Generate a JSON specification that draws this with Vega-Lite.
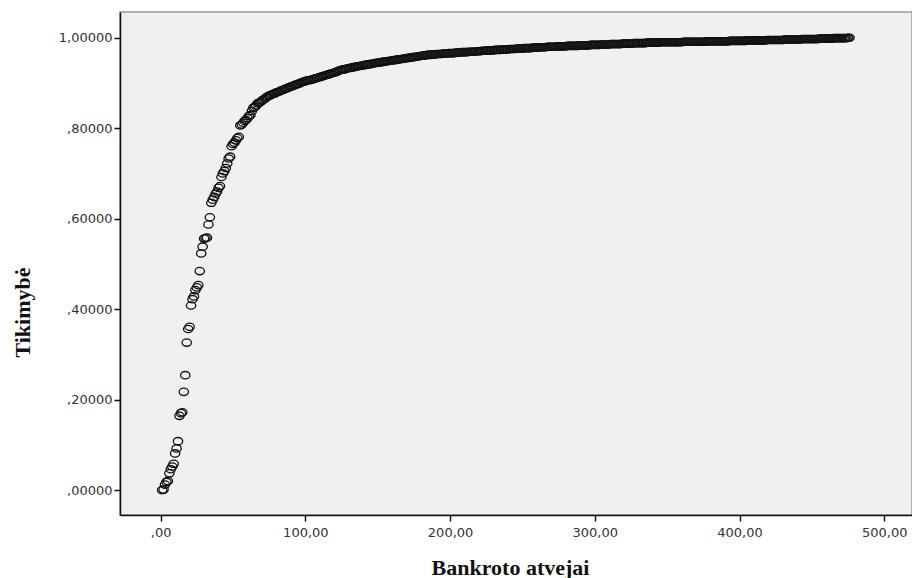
{
  "$schema": "https://vega.github.io/schema/vega-lite/v6.json",
  "width": 792,
  "height": 503,
  "autosize": {"type": "none"},
  "padding": {"left": 120, "top": 12, "right": 0, "bottom": 63},
  "background": "#ffffff",
  "config": {
    "view": {"fill": "#f0f0f0", "stroke": "#999999", "strokeWidth": 1.5},
    "axis": {"grid": false}
  },
  "data": {
    "values": [
      {"x": 1, "y": 0.000}, {"x": 2, "y": 0.001}, {"x": 3, "y": 0.012}, {"x": 4, "y": 0.018},
      {"x": 5, "y": 0.020}, {"x": 6, "y": 0.037}, {"x": 7, "y": 0.046}, {"x": 8, "y": 0.052},
      {"x": 9, "y": 0.058}, {"x": 10, "y": 0.081}, {"x": 11, "y": 0.092}, {"x": 12, "y": 0.108},
      {"x": 13, "y": 0.164}, {"x": 14, "y": 0.170}, {"x": 15, "y": 0.172}, {"x": 16, "y": 0.217},
      {"x": 17, "y": 0.254}, {"x": 18, "y": 0.326}, {"x": 19, "y": 0.356}, {"x": 20, "y": 0.361},
      {"x": 21, "y": 0.408}, {"x": 22, "y": 0.422}, {"x": 23, "y": 0.428}, {"x": 24, "y": 0.442},
      {"x": 25, "y": 0.448}, {"x": 26, "y": 0.453}, {"x": 27, "y": 0.484}, {"x": 28, "y": 0.523},
      {"x": 29, "y": 0.538}, {"x": 30, "y": 0.556}, {"x": 31, "y": 0.557}, {"x": 32, "y": 0.558},
      {"x": 33, "y": 0.587}, {"x": 34, "y": 0.603}, {"x": 35, "y": 0.635}, {"x": 36, "y": 0.642},
      {"x": 37, "y": 0.648}, {"x": 38, "y": 0.655}, {"x": 39, "y": 0.660}, {"x": 40, "y": 0.668},
      {"x": 41, "y": 0.672}, {"x": 42, "y": 0.692}, {"x": 43, "y": 0.700}, {"x": 44, "y": 0.705},
      {"x": 45, "y": 0.712}, {"x": 46, "y": 0.722}, {"x": 47, "y": 0.733}, {"x": 48, "y": 0.737},
      {"x": 49, "y": 0.760}, {"x": 50, "y": 0.765}, {"x": 51, "y": 0.768}, {"x": 52, "y": 0.773},
      {"x": 53, "y": 0.778}, {"x": 54, "y": 0.781}, {"x": 55, "y": 0.806}, {"x": 56, "y": 0.808},
      {"x": 57, "y": 0.812}, {"x": 58, "y": 0.816}, {"x": 59, "y": 0.818}, {"x": 60, "y": 0.822},
      {"x": 61, "y": 0.827}, {"x": 62, "y": 0.829}, {"x": 63, "y": 0.838}, {"x": 64, "y": 0.845},
      {"x": 65, "y": 0.847}, {"x": 66, "y": 0.850}, {"x": 67, "y": 0.855},
      {"x": 68, "y": 0.856}, {"x": 70, "y": 0.861}, {"x": 72, "y": 0.865}, {"x": 74, "y": 0.870},
      {"x": 76, "y": 0.873}, {"x": 78, "y": 0.876}, {"x": 80, "y": 0.879}, {"x": 82, "y": 0.881},
      {"x": 84, "y": 0.884}, {"x": 86, "y": 0.887}, {"x": 88, "y": 0.889}, {"x": 90, "y": 0.892},
      {"x": 92, "y": 0.894}, {"x": 94, "y": 0.897}, {"x": 96, "y": 0.899}, {"x": 98, "y": 0.902},
      {"x": 100, "y": 0.904}, {"x": 102, "y": 0.906}, {"x": 104, "y": 0.907}, {"x": 106, "y": 0.909},
      {"x": 108, "y": 0.911}, {"x": 110, "y": 0.913}, {"x": 112, "y": 0.915}, {"x": 114, "y": 0.917},
      {"x": 116, "y": 0.919}, {"x": 118, "y": 0.921}, {"x": 120, "y": 0.923}, {"x": 122, "y": 0.925},
      {"x": 124, "y": 0.928}, {"x": 126, "y": 0.930}, {"x": 128, "y": 0.931}, {"x": 130, "y": 0.933},
      {"x": 132, "y": 0.934}, {"x": 134, "y": 0.935}, {"x": 136, "y": 0.937}, {"x": 138, "y": 0.938},
      {"x": 140, "y": 0.939}, {"x": 142, "y": 0.940}, {"x": 144, "y": 0.941}, {"x": 146, "y": 0.942},
      {"x": 148, "y": 0.944}, {"x": 150, "y": 0.945}, {"x": 152, "y": 0.946}, {"x": 154, "y": 0.947},
      {"x": 156, "y": 0.948}, {"x": 158, "y": 0.949}, {"x": 160, "y": 0.950}, {"x": 162, "y": 0.951},
      {"x": 164, "y": 0.952}, {"x": 166, "y": 0.953}, {"x": 168, "y": 0.954}, {"x": 170, "y": 0.955},
      {"x": 172, "y": 0.956}, {"x": 174, "y": 0.957}, {"x": 176, "y": 0.958}, {"x": 178, "y": 0.959},
      {"x": 180, "y": 0.960}, {"x": 182, "y": 0.961}, {"x": 184, "y": 0.962}, {"x": 186, "y": 0.962},
      {"x": 188, "y": 0.963}, {"x": 190, "y": 0.963}, {"x": 192, "y": 0.964}, {"x": 194, "y": 0.964},
      {"x": 196, "y": 0.965}, {"x": 198, "y": 0.965}, {"x": 200, "y": 0.966}, {"x": 202, "y": 0.966},
      {"x": 204, "y": 0.967}, {"x": 206, "y": 0.967}, {"x": 208, "y": 0.968}, {"x": 210, "y": 0.968},
      {"x": 212, "y": 0.968}, {"x": 214, "y": 0.969}, {"x": 216, "y": 0.969}, {"x": 218, "y": 0.970},
      {"x": 220, "y": 0.970}, {"x": 222, "y": 0.971}, {"x": 224, "y": 0.971}, {"x": 226, "y": 0.972},
      {"x": 228, "y": 0.972}, {"x": 230, "y": 0.972}, {"x": 232, "y": 0.973}, {"x": 234, "y": 0.973},
      {"x": 236, "y": 0.974}, {"x": 238, "y": 0.974}, {"x": 240, "y": 0.974}, {"x": 242, "y": 0.975},
      {"x": 244, "y": 0.975}, {"x": 246, "y": 0.976}, {"x": 248, "y": 0.976}, {"x": 250, "y": 0.976},
      {"x": 252, "y": 0.977}, {"x": 254, "y": 0.977}, {"x": 256, "y": 0.977}, {"x": 258, "y": 0.978},
      {"x": 260, "y": 0.978}, {"x": 262, "y": 0.979}, {"x": 264, "y": 0.979}, {"x": 266, "y": 0.979},
      {"x": 268, "y": 0.980}, {"x": 270, "y": 0.980}, {"x": 272, "y": 0.980}, {"x": 274, "y": 0.981},
      {"x": 276, "y": 0.981}, {"x": 278, "y": 0.981}, {"x": 280, "y": 0.981}, {"x": 282, "y": 0.982},
      {"x": 284, "y": 0.982}, {"x": 286, "y": 0.982}, {"x": 288, "y": 0.982}, {"x": 290, "y": 0.983},
      {"x": 292, "y": 0.983}, {"x": 294, "y": 0.983}, {"x": 296, "y": 0.983}, {"x": 298, "y": 0.984},
      {"x": 300, "y": 0.984}, {"x": 302, "y": 0.984}, {"x": 304, "y": 0.985}, {"x": 306, "y": 0.985},
      {"x": 308, "y": 0.985}, {"x": 310, "y": 0.985}, {"x": 312, "y": 0.986}, {"x": 314, "y": 0.986},
      {"x": 316, "y": 0.986}, {"x": 318, "y": 0.986}, {"x": 320, "y": 0.987}, {"x": 322, "y": 0.987},
      {"x": 324, "y": 0.987}, {"x": 326, "y": 0.987}, {"x": 328, "y": 0.988}, {"x": 330, "y": 0.988},
      {"x": 332, "y": 0.988}, {"x": 334, "y": 0.988}, {"x": 336, "y": 0.989}, {"x": 338, "y": 0.989},
      {"x": 340, "y": 0.989}, {"x": 342, "y": 0.989}, {"x": 344, "y": 0.989}, {"x": 346, "y": 0.990},
      {"x": 348, "y": 0.990}, {"x": 350, "y": 0.990}, {"x": 352, "y": 0.990}, {"x": 354, "y": 0.990},
      {"x": 356, "y": 0.990}, {"x": 358, "y": 0.990}, {"x": 360, "y": 0.990}, {"x": 362, "y": 0.991},
      {"x": 364, "y": 0.991}, {"x": 366, "y": 0.991}, {"x": 368, "y": 0.991}, {"x": 370, "y": 0.991},
      {"x": 372, "y": 0.991}, {"x": 374, "y": 0.991}, {"x": 376, "y": 0.991}, {"x": 378, "y": 0.992},
      {"x": 380, "y": 0.992}, {"x": 382, "y": 0.992}, {"x": 384, "y": 0.992}, {"x": 386, "y": 0.992},
      {"x": 388, "y": 0.992}, {"x": 390, "y": 0.992}, {"x": 392, "y": 0.992}, {"x": 394, "y": 0.993},
      {"x": 396, "y": 0.993}, {"x": 398, "y": 0.993}, {"x": 400, "y": 0.993}, {"x": 402, "y": 0.993},
      {"x": 404, "y": 0.993}, {"x": 406, "y": 0.994}, {"x": 408, "y": 0.994}, {"x": 410, "y": 0.994},
      {"x": 412, "y": 0.994}, {"x": 414, "y": 0.994}, {"x": 416, "y": 0.994}, {"x": 418, "y": 0.994},
      {"x": 420, "y": 0.995}, {"x": 422, "y": 0.995}, {"x": 424, "y": 0.995}, {"x": 426, "y": 0.995},
      {"x": 428, "y": 0.995}, {"x": 430, "y": 0.995}, {"x": 432, "y": 0.996}, {"x": 434, "y": 0.996},
      {"x": 436, "y": 0.996}, {"x": 438, "y": 0.996}, {"x": 440, "y": 0.996}, {"x": 442, "y": 0.996},
      {"x": 444, "y": 0.997}, {"x": 446, "y": 0.997}, {"x": 448, "y": 0.997}, {"x": 450, "y": 0.997},
      {"x": 452, "y": 0.997}, {"x": 454, "y": 0.997}, {"x": 456, "y": 0.998}, {"x": 458, "y": 0.998},
      {"x": 460, "y": 0.998}, {"x": 462, "y": 0.998}, {"x": 464, "y": 0.998}, {"x": 466, "y": 0.999},
      {"x": 468, "y": 0.999}, {"x": 470, "y": 0.999}, {"x": 472, "y": 0.999}, {"x": 474, "y": 0.999},
      {"x": 476, "y": 1.000},
      {"x": 69, "y": 0.858}, {"x": 71, "y": 0.863}, {"x": 73, "y": 0.868}, {"x": 75, "y": 0.872},
      {"x": 77, "y": 0.875}, {"x": 79, "y": 0.877}, {"x": 81, "y": 0.880}, {"x": 83, "y": 0.883},
      {"x": 85, "y": 0.885}, {"x": 87, "y": 0.888}, {"x": 89, "y": 0.891}, {"x": 91, "y": 0.893},
      {"x": 93, "y": 0.896}, {"x": 95, "y": 0.898}, {"x": 97, "y": 0.901}, {"x": 99, "y": 0.903},
      {"x": 101, "y": 0.905}, {"x": 103, "y": 0.906}, {"x": 105, "y": 0.908}, {"x": 107, "y": 0.910},
      {"x": 109, "y": 0.912}, {"x": 111, "y": 0.914}, {"x": 113, "y": 0.916}, {"x": 115, "y": 0.918},
      {"x": 117, "y": 0.920}, {"x": 119, "y": 0.922}, {"x": 121, "y": 0.924}, {"x": 123, "y": 0.927},
      {"x": 125, "y": 0.929}, {"x": 127, "y": 0.930}, {"x": 129, "y": 0.932}, {"x": 131, "y": 0.933},
      {"x": 133, "y": 0.935}, {"x": 135, "y": 0.936}, {"x": 137, "y": 0.937}, {"x": 139, "y": 0.938},
      {"x": 141, "y": 0.940}, {"x": 143, "y": 0.941}, {"x": 145, "y": 0.942}, {"x": 147, "y": 0.943},
      {"x": 149, "y": 0.944}, {"x": 151, "y": 0.945}, {"x": 153, "y": 0.946}, {"x": 155, "y": 0.947},
      {"x": 157, "y": 0.948}, {"x": 159, "y": 0.949}, {"x": 161, "y": 0.950}, {"x": 163, "y": 0.951},
      {"x": 165, "y": 0.952}, {"x": 167, "y": 0.953}, {"x": 169, "y": 0.954}, {"x": 171, "y": 0.955},
      {"x": 173, "y": 0.956}, {"x": 175, "y": 0.957}, {"x": 177, "y": 0.958}, {"x": 179, "y": 0.959},
      {"x": 181, "y": 0.960}, {"x": 183, "y": 0.961}, {"x": 185, "y": 0.962}, {"x": 187, "y": 0.962},
      {"x": 189, "y": 0.963}, {"x": 191, "y": 0.964}, {"x": 193, "y": 0.964}, {"x": 195, "y": 0.965},
      {"x": 197, "y": 0.965}, {"x": 199, "y": 0.966}, {"x": 201, "y": 0.966}, {"x": 203, "y": 0.966},
      {"x": 205, "y": 0.967}, {"x": 207, "y": 0.967}, {"x": 209, "y": 0.968}, {"x": 211, "y": 0.968},
      {"x": 213, "y": 0.969}, {"x": 215, "y": 0.969}, {"x": 217, "y": 0.969}, {"x": 219, "y": 0.970},
      {"x": 221, "y": 0.970}, {"x": 223, "y": 0.971}, {"x": 225, "y": 0.971}, {"x": 227, "y": 0.972},
      {"x": 229, "y": 0.972}, {"x": 231, "y": 0.973}, {"x": 233, "y": 0.973}, {"x": 235, "y": 0.973},
      {"x": 237, "y": 0.974}, {"x": 239, "y": 0.974}, {"x": 241, "y": 0.975}, {"x": 243, "y": 0.975},
      {"x": 245, "y": 0.975}, {"x": 247, "y": 0.976}, {"x": 249, "y": 0.976}, {"x": 251, "y": 0.977},
      {"x": 253, "y": 0.977}, {"x": 255, "y": 0.977}, {"x": 257, "y": 0.978}, {"x": 259, "y": 0.978},
      {"x": 261, "y": 0.978}, {"x": 263, "y": 0.979}, {"x": 265, "y": 0.979}, {"x": 267, "y": 0.980},
      {"x": 269, "y": 0.980}, {"x": 271, "y": 0.980}, {"x": 273, "y": 0.980}, {"x": 275, "y": 0.981},
      {"x": 277, "y": 0.981}, {"x": 279, "y": 0.981}, {"x": 281, "y": 0.982}, {"x": 283, "y": 0.982},
      {"x": 285, "y": 0.982}, {"x": 287, "y": 0.982}, {"x": 289, "y": 0.983}, {"x": 291, "y": 0.983},
      {"x": 293, "y": 0.983}, {"x": 295, "y": 0.983}, {"x": 297, "y": 0.984}, {"x": 299, "y": 0.984},
      {"x": 301, "y": 0.984}, {"x": 303, "y": 0.984}, {"x": 305, "y": 0.985}, {"x": 307, "y": 0.985},
      {"x": 309, "y": 0.985}, {"x": 311, "y": 0.986}, {"x": 313, "y": 0.986}, {"x": 315, "y": 0.986},
      {"x": 317, "y": 0.986}, {"x": 319, "y": 0.987}, {"x": 321, "y": 0.987}, {"x": 323, "y": 0.987},
      {"x": 325, "y": 0.987}, {"x": 327, "y": 0.988}, {"x": 329, "y": 0.988}, {"x": 331, "y": 0.988},
      {"x": 333, "y": 0.988}, {"x": 335, "y": 0.988}, {"x": 337, "y": 0.989}, {"x": 339, "y": 0.989},
      {"x": 341, "y": 0.989}, {"x": 343, "y": 0.989}, {"x": 345, "y": 0.990}, {"x": 347, "y": 0.990},
      {"x": 349, "y": 0.990}, {"x": 351, "y": 0.990}, {"x": 353, "y": 0.990}, {"x": 355, "y": 0.990},
      {"x": 357, "y": 0.990}, {"x": 359, "y": 0.990}, {"x": 361, "y": 0.991}, {"x": 363, "y": 0.991},
      {"x": 365, "y": 0.991}, {"x": 367, "y": 0.991}, {"x": 369, "y": 0.991}, {"x": 371, "y": 0.991},
      {"x": 373, "y": 0.991}, {"x": 375, "y": 0.991}, {"x": 377, "y": 0.992}, {"x": 379, "y": 0.992},
      {"x": 381, "y": 0.992}, {"x": 383, "y": 0.992}, {"x": 385, "y": 0.992}, {"x": 387, "y": 0.992},
      {"x": 389, "y": 0.992}, {"x": 391, "y": 0.992}, {"x": 393, "y": 0.993}, {"x": 395, "y": 0.993},
      {"x": 397, "y": 0.993}, {"x": 399, "y": 0.993}, {"x": 401, "y": 0.993}, {"x": 403, "y": 0.993},
      {"x": 405, "y": 0.994}, {"x": 407, "y": 0.994}, {"x": 409, "y": 0.994}, {"x": 411, "y": 0.994},
      {"x": 413, "y": 0.994}, {"x": 415, "y": 0.994}, {"x": 417, "y": 0.994}, {"x": 419, "y": 0.995},
      {"x": 421, "y": 0.995}, {"x": 423, "y": 0.995}, {"x": 425, "y": 0.995}, {"x": 427, "y": 0.995},
      {"x": 429, "y": 0.995}, {"x": 431, "y": 0.996}, {"x": 433, "y": 0.996}, {"x": 435, "y": 0.996},
      {"x": 437, "y": 0.996}, {"x": 439, "y": 0.996}, {"x": 441, "y": 0.996}, {"x": 443, "y": 0.997},
      {"x": 445, "y": 0.997}, {"x": 447, "y": 0.997}, {"x": 449, "y": 0.997}, {"x": 451, "y": 0.997},
      {"x": 453, "y": 0.997}, {"x": 455, "y": 0.998}, {"x": 457, "y": 0.998}, {"x": 459, "y": 0.998},
      {"x": 461, "y": 0.998}, {"x": 463, "y": 0.998}, {"x": 465, "y": 0.999}, {"x": 467, "y": 0.999},
      {"x": 469, "y": 0.999}, {"x": 471, "y": 0.999}, {"x": 473, "y": 0.999}, {"x": 475, "y": 1.000}
    ]
  },
  "mark": {
    "type": "point",
    "shape": "M -1 0 A 1 0.78 0 1 0 1 0 A 1 0.78 0 1 0 -1 0 Z",
    "filled": false,
    "stroke": "#111111",
    "strokeWidth": 1.3,
    "size": 88,
    "opacity": 1,
    "clip": true
  },
  "encoding": {
    "x": {
      "field": "x",
      "type": "quantitative",
      "scale": {"domain": [-28.1, 519.2], "nice": false, "zero": false},
      "axis": {
        "values": [0, 100, 200, 300, 400, 500],
        "labelExpr": "datum.value == 0 ? ',00' : format(datum.value, '.0f') + ',00'",
        "title": "Bankroto atvejai",
        "titleFont": "Liberation Serif",
        "titleFontWeight": "bold",
        "titleFontSize": 22,
        "titleColor": "#111111",
        "titleX": 390,
        "titleY": 59,
        "titleAnchor": "middle",
        "titleAlign": "center",
        "titleBaseline": "alphabetic",
        "labelFont": "DejaVu Sans",
        "labelFontSize": 13,
        "labelColor": "#333333",
        "labelPadding": 5,
        "labelFlush": false,
        "labelOverlap": false,
        "tickSize": 6,
        "tickColor": "#111111",
        "tickWidth": 1.5,
        "domainColor": "#111111",
        "domainWidth": 1.5
      }
    },
    "y": {
      "field": "y",
      "type": "quantitative",
      "scale": {"domain": [-0.0552, 1.0568], "nice": false, "zero": false},
      "axis": {
        "values": [0, 0.2, 0.4, 0.6, 0.8, 1.0],
        "labelExpr": "datum.value < 0.999 ? ',' + substring(format(datum.value, '.5f'), 2) : replace(format(datum.value, '.5f'), '.', ',')",
        "title": "Tikimybė",
        "titleFont": "Liberation Serif",
        "titleFontWeight": "bold",
        "titleFontSize": 22,
        "titleColor": "#111111",
        "titleAngle": -90,
        "titleX": -91,
        "titleY": 300,
        "titleAlign": "center",
        "titleBaseline": "alphabetic",
        "labelFont": "DejaVu Sans",
        "labelFontSize": 13,
        "labelColor": "#333333",
        "labelPadding": 2,
        "labelFlush": false,
        "labelOverlap": false,
        "tickSize": 6,
        "tickColor": "#111111",
        "tickWidth": 1.5,
        "domainColor": "#111111",
        "domainWidth": 1.5
      }
    }
  }
}
